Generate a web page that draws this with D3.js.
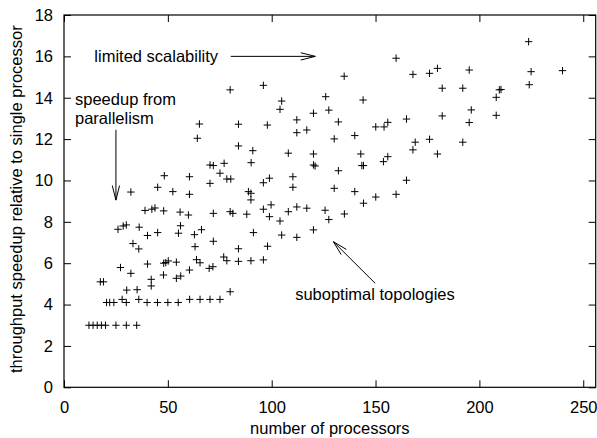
<!DOCTYPE html>
<html>
<head>
<meta charset="utf-8">
<script src="https://cdn.jsdelivr.net/npm/d3@7"></script>
<style>
  html, body { margin: 0; padding: 0; background: #fff; }
  svg { display: block; }
  text { font-family: "Liberation Sans", Arial, Helvetica, sans-serif; fill: #000; }
</style>
</head>
<body>
<svg id="chart" width="597" height="438"></svg>
<script>
// ---- data ----
const processors = [
  12, 14, 16, 18, 20, 25, 30, 35,
  20.5, 22, 24, 28, 30, 36, 40, 45, 50, 55, 60.5, 65.5, 70.3, 75.1, 80,
  30.2, 35.2, 42, 42, 17.5, 19,
  27.2, 32.2, 47.9, 54.1, 56.2, 60.4, 69.9, 71.7,
  40.2, 48, 49, 50.2, 54.1, 63.8, 65.5, 76.9, 78.4, 84, 90, 96,
  33.2, 36, 63.1, 84, 98,
  71.9, 26, 28.5, 30, 36.2, 40.2, 45.1, 55.1, 56.1, 62.8, 66.2, 91.2, 104.8, 112.1, 120.1,
  39, 42.3, 43.8, 48, 55.9, 59.9, 71.9, 80, 81.3, 88, 96, 99.7, 98.9, 104, 108, 112.1, 116.9, 125.7, 127.5, 135, 144.2,
  32.2, 45.1, 52.4, 60.4, 70.3, 88.8, 90, 90, 96, 110.2, 130.1, 140, 150.1, 159.9,
  48.3, 60.4, 70.3, 71.9, 77.1, 75.1, 78.4, 80.3, 90.1, 98.9, 110.2, 120.1, 120.9, 132.1, 143.4, 144.2, 153.8, 164.9,
  84, 90.9, 108, 120.1, 142.9, 155.9, 168, 169.1, 176, 179.8, 192,
  64.2, 65.2, 84, 97.9, 112.1, 112.1, 116.9, 130.1, 132.1, 140, 150.1, 154.1, 155.9, 164.9, 195.1,
  104, 104.8, 120.1, 127.5, 144, 182.1, 196.1, 208.1,
  80, 96, 126, 182.1, 192, 208.1, 209.6, 210.4, 224,
  134.9, 159.9, 168, 176, 179.8, 195.1, 224.9, 240, 223.7
];
const speedup = [
  3, 3, 3, 3, 3, 3, 3, 3,
  4.1, 4.1, 4.1, 4.25, 4.1, 4.25, 4.1, 4.1, 4.1, 4.1, 4.25, 4.25, 4.25, 4.25, 4.62,
  4.7, 4.72, 4.9, 5.22, 5.1, 5.1,
  5.79, 5.51, 5.43, 5.27, 5.38, 5.67, 5.75, 5.83,
  5.96, 6.0, 6.03, 6.11, 6.05, 6.17, 6.02, 6.3, 6.12, 6.09, 6.12, 6.16,
  6.95, 6.69, 6.8, 6.7, 6.82,
  7.06, 7.64, 7.8, 7.85, 7.74, 7.34, 7.48, 7.45, 7.81, 7.38, 7.62, 7.48, 7.36, 7.25, 7.61,
  8.55, 8.61, 8.67, 8.53, 8.47, 8.33, 8.41, 8.49, 8.41, 8.37, 8.61, 8.82, 8.25, 8.04, 8.49, 8.72, 8.66, 8.56, 8.11, 8.38, 8.9,
  9.44, 9.67, 9.46, 9.33, 9.86, 9.46, 9.38, 9.06, 9.89, 9.67, 9.62, 9.46, 9.2, 9.33,
  10.23, 10.18, 10.75, 10.72, 10.83, 10.35, 10.07, 10.07, 10.86, 10.11, 10.18, 10.75, 10.7, 10.47, 10.72, 10.72, 10.91, 10.01,
  11.67, 11.44, 11.32, 11.28, 11.28, 11.15, 11.48, 11.85, 11.99, 11.28, 11.85,
  12.04, 12.73, 12.72, 12.68, 12.93, 12.31, 12.44, 12.01, 12.83, 12.17, 12.59, 12.59, 12.81, 12.97, 12.8,
  13.44, 13.84, 13.25, 13.4, 13.89, 13.12, 13.41, 13.15,
  14.38, 14.6, 14.05, 14.46, 14.46, 14.02, 14.38, 14.4, 14.63,
  15.04, 15.91, 15.13, 15.18, 15.42, 15.34, 15.26, 15.31, 16.71
];
const xTicks = [0, 50, 100, 150, 200, 250];
const yTicks = [0, 2, 4, 6, 8, 10, 12, 14, 16, 18];
const xTitle = "number of processors";
const yTitle = "throughput speedup relative to single processor";
const labelTexts = ["limited scalability", "speedup from", "parallelism", "suboptimal topologies"];

// ---- layout ----
const mLeft = 64, mRight = 595.7, mTop = 15, mBottom = 387.3;
const svg = d3.select("#chart");
const x = d3.scaleLinear().domain([0, 256]).range([mLeft, mRight]);
const y = d3.scaleLinear().domain([0, 18]).range([mBottom, mTop]);
const FS = 16.5;

// axes with inward ticks (bottom/left with labels; top/right mirrored)
const gx = svg.append("g").attr("transform", `translate(0,${mBottom})`)
  .call(d3.axisBottom(x).tickValues(xTicks).tickSizeInner(-7).tickSizeOuter(0).tickPadding(14));
const gy = svg.append("g").attr("transform", `translate(${mLeft},0)`)
  .call(d3.axisLeft(y).tickValues(yTicks).tickSizeInner(-7).tickSizeOuter(0).tickPadding(11));
const gx2 = svg.append("g").attr("transform", `translate(0,${mTop})`)
  .call(d3.axisTop(x).tickValues(xTicks).tickSizeInner(-7).tickSizeOuter(0).tickFormat(""));
const gy2 = svg.append("g").attr("transform", `translate(${mRight},0)`)
  .call(d3.axisRight(y).tickValues(yTicks).tickSizeInner(-7).tickSizeOuter(0).tickFormat(""));
[gx, gy, gx2, gy2].forEach(g => {
  g.select(".domain").remove();
  g.selectAll("line").attr("stroke", "#000").attr("stroke-width", 1);
  g.selectAll("text").style("font-size", FS + "px").attr("fill", "#000")
    .style("font-family", '"Liberation Sans", Arial, Helvetica, sans-serif');
});

// frame
svg.append("rect").attr("x", mLeft).attr("y", mTop)
  .attr("width", mRight - mLeft).attr("height", mBottom - mTop)
  .attr("fill", "none").attr("stroke", "#000").attr("stroke-width", 1.2);

// axis titles
svg.append("text").attr("x", (mLeft + mRight) / 2).attr("y", 434)
  .attr("text-anchor", "middle").style("font-size", FS + "px").text(xTitle);
svg.append("text").attr("transform", `translate(22,${(mTop + mBottom) / 2 - 2}) rotate(-90)`)
  .attr("text-anchor", "middle").style("font-size", FS + "px").text(yTitle);

// points as "+"
const pts = processors.map((p, i) => [p, speedup[i]]);
const s = 3.7;
svg.append("g").selectAll("path").data(pts).join("path")
  .attr("d", d => {
    const cx = x(d[0]), cy = y(d[1]);
    return `M${cx - s},${cy}H${cx + s}M${cx},${cy - s}V${cy + s}`;
  })
  .attr("stroke", "#000").attr("stroke-width", 1).attr("fill", "none");

// annotations
function arrow(x1, y1, x2, y2) {
  const X1 = x(x1), Y1 = y(y1), X2 = x(x2), Y2 = y(y2);
  const ang = Math.atan2(Y2 - Y1, X2 - X1);
  const L = 15, a = 14 * Math.PI / 180;
  const h1 = [X2 - L * Math.cos(ang - a), Y2 - L * Math.sin(ang - a)];
  const h2 = [X2 - L * Math.cos(ang + a), Y2 - L * Math.sin(ang + a)];
  svg.append("path")
    .attr("d", `M${X1},${Y1}L${X2},${Y2}M${h1[0]},${h1[1]}L${X2},${Y2}L${h2[0]},${h2[1]}`)
    .attr("stroke", "#000").attr("stroke-width", 1).attr("fill", "none");
}
function label(t, xv, yv) {
  svg.append("text").attr("x", x(xv)).attr("y", y(yv)).attr("dy", "0.35em")
    .style("font-size", FS + "px").text(t);
}
label(labelTexts[0], 14.6, 16);
arrow(80.3, 16, 121, 16);
label(labelTexts[1], 5.3, 13.93);
label(labelTexts[2], 5.3, 13.0);
arrow(25, 12.45, 25, 9.05);
label(labelTexts[3], 111.3, 4.48);
arrow(149.8, 5.03, 129.7, 7.04);
</script>
</body>
</html>
